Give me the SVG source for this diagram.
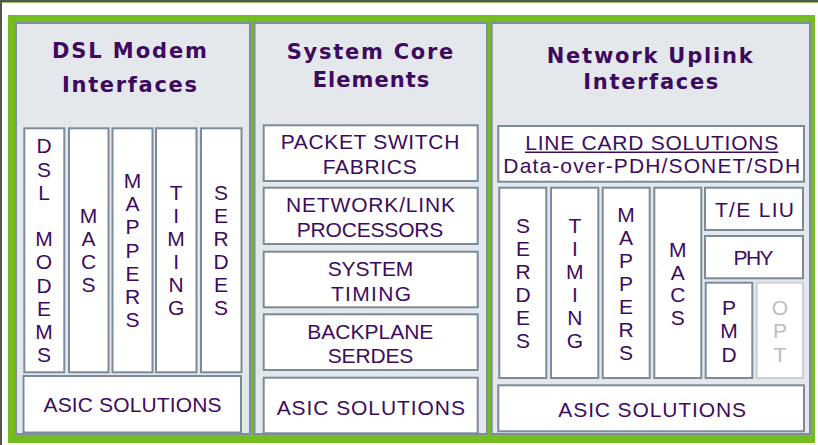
<svg xmlns="http://www.w3.org/2000/svg" width="818" height="445" viewBox="0 0 818 445">
  <style>
    .frame { fill: #74BD20; }
    .panel { fill: #E4E8EC; stroke: #7F8E9D; stroke-width: 2; }
    .box { fill: #FFFFFF; stroke: #7B8B9A; stroke-width: 2; }
    .box-dim { fill: #FFFFFF; stroke: #CDCFD1; stroke-width: 2; }
    .title { font-family: "DejaVu Sans", Verdana, sans-serif; font-weight: bold; font-size: 21px; fill: #3D0A5E; text-anchor: middle; }
    .label { font-family: "Liberation Sans", Arial, sans-serif; font-size: 21px; fill: #3C0B5E; text-anchor: middle; }
    .label-dim { font-family: "Liberation Sans", Arial, sans-serif; font-size: 21px; fill: #BDBDBD; text-anchor: middle; }
  </style>

  <!-- page edge and green frame -->
  <rect x="0" y="0" width="818" height="445" fill="#FFFFFF"/>
  <rect x="0" y="0" width="818" height="2" fill="#4E5846"/>
  <rect x="0" y="2" width="818" height="1" fill="#9CC06A"/>
  <rect x="0" y="0" width="2" height="445" fill="#4E5846"/>
  <rect class="frame" x="8" y="15" width="807" height="428"/>

  <!-- DSL Modem Interfaces -->
  <g id="panel-dsl">
    <rect class="panel" x="16" y="23" width="234" height="411"/>
    <text class="title"><tspan x="129.5" y="58.3" textLength="155" lengthAdjust="spacing">DSL Modem</tspan><tspan x="129.5" y="91.7" textLength="135" lengthAdjust="spacing">Interfaces</tspan></text>
  </g>
  <g id="dsl-modems">
    <rect class="box" x="24.3" y="128.3" width="40" height="244"/>
    <text class="label"><tspan x="44" y="153.3">D</tspan><tspan x="44" dy="23.2">S</tspan><tspan x="44" dy="23.2">L</tspan><tspan x="44" dy="46.4">M</tspan><tspan x="44" dy="23.2">O</tspan><tspan x="44" dy="23.2">D</tspan><tspan x="44" dy="23.2">E</tspan><tspan x="44" dy="23.2">M</tspan><tspan x="44" dy="23.2">S</tspan></text>
  </g>
  <g id="dsl-macs">
    <rect class="box" x="69" y="128.3" width="39.5" height="244"/>
    <text class="label"><tspan x="88.6" y="223.3">M</tspan><tspan x="88.6" dy="22.8">A</tspan><tspan x="88.6" dy="22.8">C</tspan><tspan x="88.6" dy="22.8">S</tspan></text>
  </g>
  <g id="dsl-mappers">
    <rect class="box" x="112.5" y="128.3" width="40" height="244"/>
    <text class="label"><tspan x="132.6" y="188.3">M</tspan><tspan x="132.6" dy="23.07">A</tspan><tspan x="132.6" dy="23.07">P</tspan><tspan x="132.6" dy="23.07">P</tspan><tspan x="132.6" dy="23.07">E</tspan><tspan x="132.6" dy="23.07">R</tspan><tspan x="132.6" dy="23.07">S</tspan></text>
  </g>
  <g id="dsl-timing">
    <rect class="box" x="156" y="128.3" width="40.5" height="244"/>
    <text class="label"><tspan x="176.1" y="200">T</tspan><tspan x="176.1" dy="23">I</tspan><tspan x="176.1" dy="23">M</tspan><tspan x="176.1" dy="23">I</tspan><tspan x="176.1" dy="23">N</tspan><tspan x="176.1" dy="23">G</tspan></text>
  </g>
  <g id="dsl-serdes">
    <rect class="box" x="201" y="128.3" width="40.5" height="244"/>
    <text class="label"><tspan x="221" y="200">S</tspan><tspan x="221" dy="23">E</tspan><tspan x="221" dy="23">R</tspan><tspan x="221" dy="23">D</tspan><tspan x="221" dy="23">E</tspan><tspan x="221" dy="23">S</tspan></text>
  </g>
  <g id="dsl-asic">
    <rect class="box" x="23.5" y="376" width="217.5" height="56.5"/>
    <text class="label" x="132.5" y="411.7" textLength="178" lengthAdjust="spacing">ASIC SOLUTIONS</text>
  </g>

  <!-- System Core Elements -->
  <g id="panel-core">
    <rect class="panel" x="254.5" y="23" width="232.5" height="411"/>
    <text class="title"><tspan x="370" y="59.3" textLength="166.7" lengthAdjust="spacing">System Core</tspan><tspan x="371" y="86.7" textLength="116.7" lengthAdjust="spacing">Elements</tspan></text>
  </g>
  <g id="core-switch">
    <rect class="box" x="263.7" y="125.3" width="214" height="55.7"/>
    <text class="label"><tspan x="370" y="149" textLength="178.7" lengthAdjust="spacing">PACKET SWITCH</tspan><tspan x="369.7" y="174" textLength="94" lengthAdjust="spacing">FABRICS</tspan></text>
  </g>
  <g id="core-processors">
    <rect class="box" x="263.7" y="187.7" width="214" height="56.3"/>
    <text class="label"><tspan x="370.5" y="212" textLength="169" lengthAdjust="spacing">NETWORK/LINK</tspan><tspan x="370" y="236.7" textLength="146.7" lengthAdjust="spacing">PROCESSORS</tspan></text>
  </g>
  <g id="core-timing">
    <rect class="box" x="263.7" y="251.7" width="214" height="55.6"/>
    <text class="label"><tspan x="370.5" y="275.7" textLength="85.7" lengthAdjust="spacing">SYSTEM</tspan><tspan x="371" y="301" textLength="80" lengthAdjust="spacing">TIMING</tspan></text>
  </g>
  <g id="core-backplane">
    <rect class="box" x="263.7" y="314.3" width="214" height="55.7"/>
    <text class="label"><tspan x="370.3" y="338.7" textLength="126" lengthAdjust="spacing">BACKPLANE</tspan><tspan x="370.5" y="363.3" textLength="85.7" lengthAdjust="spacing">SERDES</tspan></text>
  </g>
  <g id="core-asic">
    <rect class="box" x="263.7" y="377.7" width="214" height="55.6"/>
    <text class="label" x="370.8" y="415" textLength="188.3" lengthAdjust="spacing">ASIC SOLUTIONS</text>
  </g>

  <!-- Network Uplink Interfaces -->
  <g id="panel-uplink">
    <rect class="panel" x="491.7" y="23" width="318.3" height="411"/>
    <text class="title"><tspan x="649.7" y="63.3" textLength="206" lengthAdjust="spacing">Network Uplink</tspan><tspan x="650.8" y="89.3" textLength="135" lengthAdjust="spacing">Interfaces</tspan></text>
  </g>
  <g id="uplink-linecard">
    <rect class="box" x="498.3" y="126" width="305.7" height="55.7"/>
    <text class="label"><tspan x="651.7" y="150" textLength="253" lengthAdjust="spacing">LINE CARD SOLUTIONS</tspan><tspan x="651.7" y="172.7" textLength="296.7" lengthAdjust="spacing">Data-over-PDH/SONET/SDH</tspan></text>
    <line x1="525" y1="152.2" x2="778.3" y2="152.2" stroke="#3C0B5E" stroke-width="1.5"/>
  </g>
  <g id="uplink-serdes">
    <rect class="box" x="499.3" y="187.7" width="47" height="190.3"/>
    <text class="label"><tspan x="523" y="233.3">S</tspan><tspan x="523" dy="23">E</tspan><tspan x="523" dy="23">R</tspan><tspan x="523" dy="23">D</tspan><tspan x="523" dy="23">E</tspan><tspan x="523" dy="23">S</tspan></text>
  </g>
  <g id="uplink-timing">
    <rect class="box" x="551" y="187.7" width="47.3" height="190.3"/>
    <text class="label"><tspan x="574.8" y="233.3">T</tspan><tspan x="574.8" dy="23">I</tspan><tspan x="574.8" dy="23">M</tspan><tspan x="574.8" dy="23">I</tspan><tspan x="574.8" dy="23">N</tspan><tspan x="574.8" dy="23">G</tspan></text>
  </g>
  <g id="uplink-mappers">
    <rect class="box" x="602.7" y="187.7" width="47" height="190.3"/>
    <text class="label"><tspan x="626.1" y="221.7">M</tspan><tspan x="626.1" dy="23.05">A</tspan><tspan x="626.1" dy="23.05">P</tspan><tspan x="626.1" dy="23.05">P</tspan><tspan x="626.1" dy="23.05">E</tspan><tspan x="626.1" dy="23.05">R</tspan><tspan x="626.1" dy="23.05">S</tspan></text>
  </g>
  <g id="uplink-macs">
    <rect class="box" x="654.3" y="187.7" width="47" height="190.3"/>
    <text class="label"><tspan x="677.8" y="256.7">M</tspan><tspan x="677.8" dy="22.8">A</tspan><tspan x="677.8" dy="22.8">C</tspan><tspan x="677.8" dy="22.8">S</tspan></text>
  </g>
  <g id="uplink-liu">
    <rect class="box" x="705" y="187.7" width="98" height="42.3"/>
    <text class="label" x="754.5" y="216.7" textLength="79" lengthAdjust="spacing">T/E LIU</text>
  </g>
  <g id="uplink-phy">
    <rect class="box" x="705" y="236" width="98" height="42.3"/>
    <text class="label" x="753.5" y="265" textLength="40" lengthAdjust="spacing">PHY</text>
  </g>
  <g id="uplink-pmd">
    <rect class="box" x="705.7" y="282.7" width="46.6" height="95.3"/>
    <text class="label"><tspan x="729" y="315">P</tspan><tspan x="729" dy="23.3">M</tspan><tspan x="729" dy="23.3">D</tspan></text>
  </g>
  <g id="uplink-opt">
    <rect class="box-dim" x="756.7" y="282.7" width="46.3" height="95.3"/>
    <text class="label-dim"><tspan x="780" y="315">O</tspan><tspan x="780" dy="23.3">P</tspan><tspan x="780" dy="23.3">T</tspan></text>
  </g>
  <g id="uplink-asic">
    <rect class="box" x="498.3" y="385.3" width="305.7" height="46"/>
    <text class="label" x="652.2" y="416.7" textLength="187.7" lengthAdjust="spacing">ASIC SOLUTIONS</text>
  </g>

  <!-- no connectors are drawn between the blocks -->
  <g id="connectors"/>
</svg>
